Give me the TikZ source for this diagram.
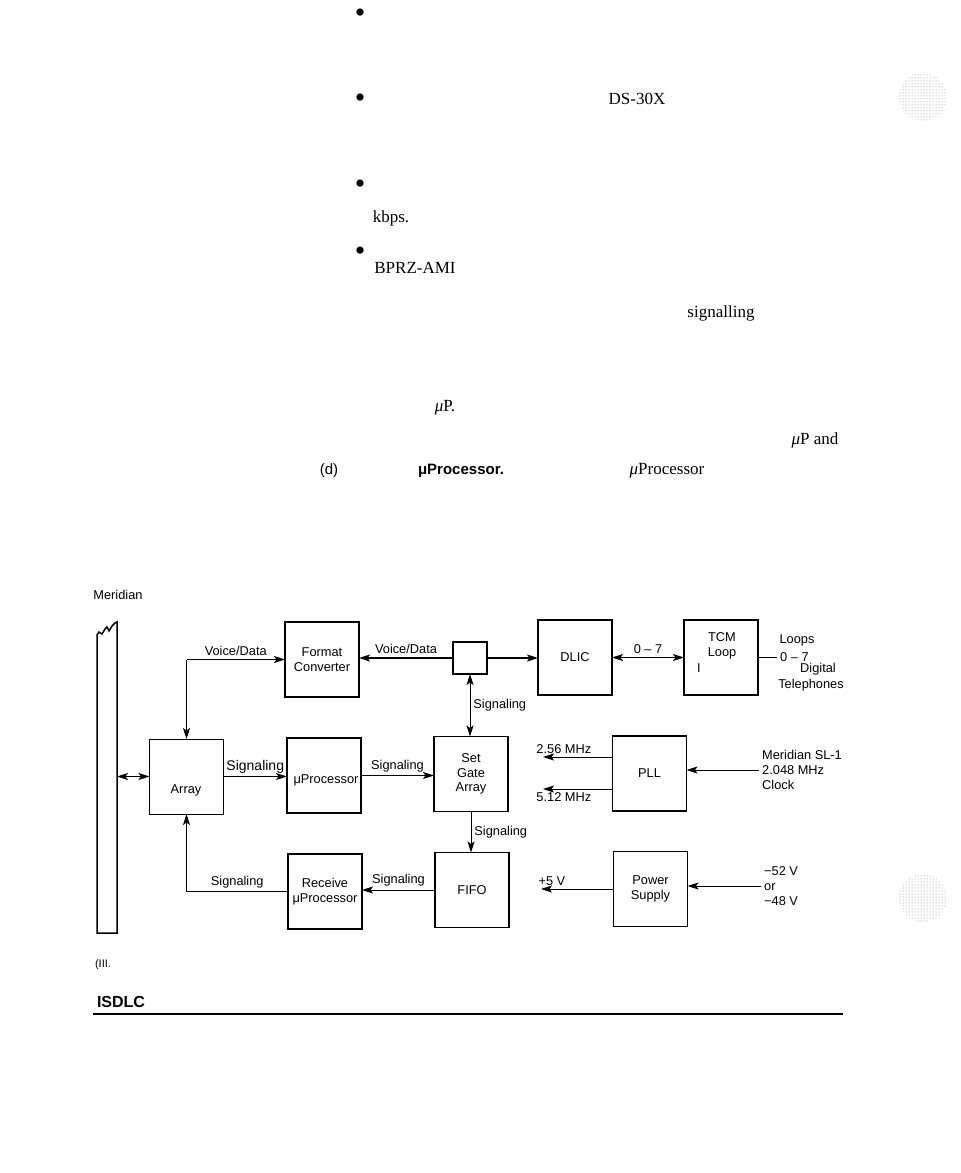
\documentclass[tikz,border=0pt]{standalone}
\usepackage{fontspec}
\setmainfont{Liberation Serif}
\setsansfont{Liberation Sans}
\usetikzlibrary{arrows.meta,patterns}

\newcommand{\diagfont}{\sffamily\fontsize{12.8}{14.8}\selectfont}
\newcommand{\pagefont}{\rmfamily\fontsize{17}{20}\selectfont}

\begin{document}
\begin{tikzpicture}[x=1pt,y=-1pt,
	blk/.style={draw, line width=1.8pt, inner sep=0pt, outer sep=0pt, minimum width=74pt, minimum height=75pt, align=center, font=\diagfont},
	lab/.style={font=\diagfont, inner sep=3pt},
	arr/.style={-{Stealth[length=11pt,width=7pt,inset=2.5pt]}, line width=0.9pt},
	darr/.style={{Stealth[length=11pt,width=7pt,inset=2.5pt]}-{Stealth[length=11pt,width=7pt,inset=2.5pt]}, line width=0.9pt},
	ptxt/.style={font=\pagefont, inner sep=0pt},
	dot/.style={font=\rmfamily\fontsize{30}{32}\selectfont, inner sep=0pt, text height=16pt, text depth=0pt, anchor=base}]
	\useasboundingbox (0,0) rectangle (961,1173);
	\node[dot] (b1) at (360,22) {•};
	\node[dot] (b2) at (360,107) {•};
	\node[ptxt] (ds) at (637,99) {DS-30X};
	\node[dot] (b3) at (360,193) {•};
	\node[ptxt] (kb) at (391,218) {kbps.};
	\node[dot] (b4) at (360,260) {•};
	\node[ptxt] (bp) at (415,268) {BPRZ-AMI};
	\node[ptxt] (sg) at (721,313) {signalling};
	\node[ptxt] (mp1) at (445,408) {\textit{μ}P.};
	\node[ptxt] (mp2) at (815,440) {\textit{μ}P and};
	\node[font=\sffamily\fontsize{15}{18}\selectfont, inner sep=0pt] (dd) at (329,471) {(d)};
	\node[font=\sffamily\bfseries\fontsize{15}{18}\selectfont, inner sep=0pt] (mp3) at (461,471) {μProcessor.};
	\node[ptxt] (mp4) at (667,471) {\textit{μ}Processor};
	\node[font=\diagfont, inner sep=0pt] (mer) at (118,595) {Meridian};
	\fill[pattern=dots, pattern color=gray] (923,97) circle[radius=24];
	\fill[pattern=dots, pattern color=gray] (923,898) circle[radius=24];

	\draw[line width=1.5pt] (117,622) -- (117,933) -- (97,933) -- (97,635) -- (99,632) -- (102,634) -- (105,629) -- (107,627) -- (109,631) -- (112,626) -- (115,623) -- cycle;
	\coordinate (bus) at (117,776.5);

	\node[blk] (fmt) at (322,659.5) {Format\\Converter};
	\node[blk, minimum width=34pt, minimum height=32pt] (sw) at (470,658) {};
	\node[blk] (dlic) at (575,657.5) {DLIC};
	\node[blk] (tcm) at (721,657.5) {};
	\node[lab, align=center] (tcmtxt) at (722,646) {TCM\\Loop};
	\node[lab] (tcmi) at (699,668) {I};
	\node[blk, line width=0.9pt] (array) at (186.5,776.5) {};
	\node[lab] (arrtxt) at (186,790) {Array};
	\node[blk, line width=1.2pt] (upr) at (324,775.5) {};
	\node[lab] (uprtxt) at (326,780) {μProcessor};
	\node[blk] (sga) at (471,774) {Set\\Gate\\Array};
	\node[blk] (pll) at (649.5,773.5) {PLL};
	\node[blk] (rpr) at (325,891.5) {Receive\\μProcessor};
	\node[blk] (fifo) at (472,890) {FIFO};
	\node[blk] (psu) at (650.5,889) {Power\\Supply};

	\node[lab, anchor=west] (lnum) at (777,657.5) {0 – 7};
	\node[lab] (loops) at (797,640) {Loops};
	\node[lab] (dig) at (818,669) {Digital};
	\node[lab] (tel) at (811,685) {Telephones};
	\node[lab, anchor=west, align=left] (clk) at (759,770) {Meridian SL-1\\2.048 MHz\\Clock};
	\node[lab, anchor=west, align=left] (pwr) at (761,886) {−52 V\\or\\−48 V};
	\coordinate (f1) at (543,757);
	\coordinate (f2) at (543,789);
	\coordinate (v5) at (541,889);
	\coordinate (vd) at (array.north |- fmt.west);

	\draw[arr, line width=1.8pt] (vd) -- (fmt.west) node[lab, midway, above] {Voice/Data};
	\draw[arr] (vd) -- (array.north);
	\draw[arr, line width=1.8pt] (sw.west) -- (sw.west -| fmt.east) node[lab, midway, above] {Voice/Data};
	\draw[arr, line width=1.8pt] (sw.east) -- (sw.east -| dlic.west);
	\draw[darr, line width=1.3pt] (dlic.east) -- (tcm.west) node[lab, midway, above] {0 – 7};
	\draw[line width=0.9pt] (tcm.east) -- (tcm.east -| lnum.west);
	\draw[darr] (sw.south) -- (sw.south |- sga.north) node[lab, midway, right] {Signaling};
	\draw[darr] (bus) -- (array.west);
	\draw[arr] (array.east) -- (array.east -| upr.west) node[lab, midway, above, font=\sffamily\fontsize{14}{16}\selectfont] {Signaling};
	\draw[arr] (upr.east) -- (upr.east -| sga.west) node[lab, midway, above] {Signaling};
	\draw[arr] (sga.south) -- (sga.south |- fifo.north) node[lab, midway, right] {Signaling};
	\draw[arr] (fifo.west) -- (fifo.west -| rpr.east) node[lab, midway, above] {Signaling};
	\draw[arr] (rpr.west) -| (array.south) node[lab, pos=0.25, above] {Signaling};
	\draw[arr] (f1 -| pll.west) -- (f1) node[lab, pos=0.7, above] {2.56 MHz};
	\draw[arr] (f2 -| pll.west) -- (f2) node[lab, pos=0.7, below] {5.12 MHz};
	\draw[arr] (clk.west) -- (clk.west -| pll.east);
	\draw[arr] (psu.west) -- (v5) node[lab, pos=0.85, above] {+5 V};
	\draw[arr] (pwr.west) -- (pwr.west -| psu.east);

	\node[font=\sffamily\fontsize{11}{13}\selectfont, inner sep=0pt] (ill) at (103,965) {(III.};
	\node[font=\sffamily\bfseries\fontsize{16}{19}\selectfont, inner sep=0pt] (isd) at (121,1002) {ISDLC};
	\coordinate (rl) at (93,1014);
	\coordinate (rr) at (843,1014);
	\draw[line width=2pt] (rl) -- (rr);
\end{tikzpicture}
\end{document}
